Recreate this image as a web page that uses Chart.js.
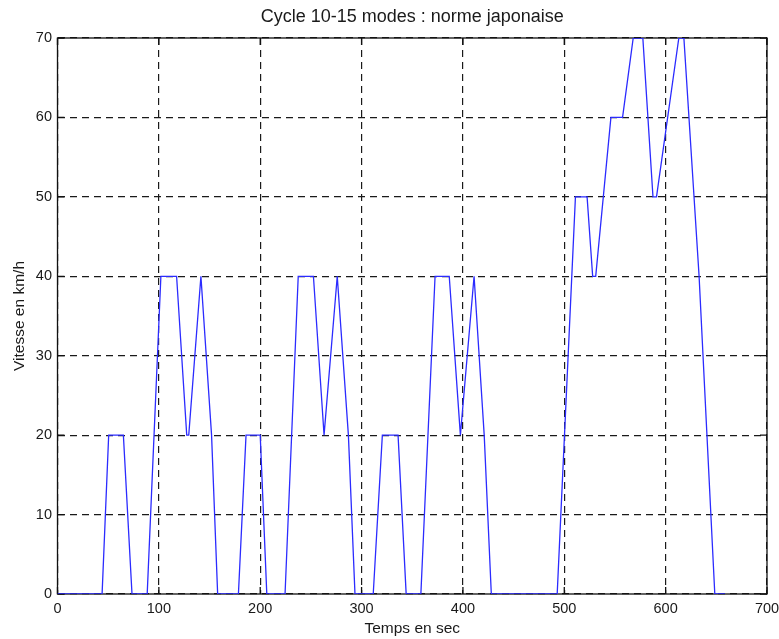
<!DOCTYPE html>
<html lang="fr">
<head>
<meta charset="utf-8">
<title>Cycle 10-15 modes : norme japonaise</title>
<script src="https://cdn.jsdelivr.net/npm/chart.js@4/dist/chart.umd.min.js"></script>
<style>
  html, body { margin: 0; padding: 0; background: #ffffff; }
  canvas { display: block; }
</style>
</head>
<body>
<canvas id="cycle" width="779" height="639"></canvas>
<script>
// Instants (s) des points de rupture du profil de vitesse
const tempsSec = [
  0, 44, 50.5, 65, 73.5, 88.5, 102, 117.5, 127.5, 129.5, 141.5, 152, 158,
  178.5, 186, 200, 206.5, 224.5, 237.5, 252.5, 263, 276, 287, 293.5,
  311.5, 320.5, 336, 344, 358.5, 372.5, 386.5, 397.5, 411, 421, 428,
  493, 511, 522.5, 528, 531, 546, 557.5, 568, 577.5, 587.5, 591, 613, 618,
  633, 648.5, 658.5
];
// Vitesse (km/h) atteinte à chacun de ces instants
const vitesseKmh = [
  0, 0, 20, 20, 0, 0, 40, 40, 20, 20, 40, 20, 0,
  0, 20, 20, 0, 0, 40, 40, 20, 40, 20, 0,
  0, 20, 20, 0, 0, 40, 40, 20, 40, 20, 0,
  0, 50, 50, 40, 40, 60, 60, 70, 70, 50, 50, 70, 70,
  40, 0, 0
];
// Graduations des deux axes
const graduationsTemps = [0, 100, 200, 300, 400, 500, 600, 700];
const graduationsVitesse = [0, 10, 20, 30, 40, 50, 60, 70];

const police = '"Liberation Sans", Arial, Helvetica, sans-serif';
const encre = '#1a1a1a';

// Cadre plein autour du tracé et petites graduations tournées vers l'intérieur
const cadreEtGraduations = {
  id: 'cadreEtGraduations',
  beforeDatasetsDraw(chart) {
    const { ctx, chartArea: a, scales: { x, y } } = chart;
    const long = 7;
    ctx.save();
    ctx.strokeStyle = '#111';
    ctx.lineWidth = 1.3;
    ctx.setLineDash([]);
    ctx.beginPath();
    x.ticks.forEach(t => {
      const px = x.getPixelForValue(t.value);
      ctx.moveTo(px, a.bottom); ctx.lineTo(px, a.bottom - long);
      ctx.moveTo(px, a.top); ctx.lineTo(px, a.top + long);
    });
    y.ticks.forEach(t => {
      const py = y.getPixelForValue(t.value);
      ctx.moveTo(a.left, py); ctx.lineTo(a.left + long, py);
      ctx.moveTo(a.right, py); ctx.lineTo(a.right - long, py);
    });
    ctx.stroke();
    ctx.strokeRect(a.left, a.top, a.right - a.left, a.bottom - a.top);
    ctx.restore();
  }
};

new Chart(document.getElementById('cycle'), {
  type: 'line',
  data: {
    datasets: [{
      label: 'Vitesse',
      data: tempsSec.map((t, i) => ({ x: t, y: vitesseKmh[i] })),
      borderColor: '#2b2bff',
      borderWidth: 1.3,
      pointRadius: 0,
      tension: 0,
      fill: false
    }]
  },
  options: {
    responsive: false,
    animation: false,
    devicePixelRatio: 1,
    layout: { padding: { left: 0, right: 12, top: 0, bottom: 0 } },
    plugins: {
      legend: { display: false },
      tooltip: { enabled: false },
      title: {
        display: true,
        fullSize: false,
        text: 'Cycle 10-15 modes : norme japonaise',
        color: encre,
        font: { family: police, size: 18, weight: 'normal' },
        padding: { top: 6, bottom: 10.4 }
      }
    },
    scales: {
      x: {
        type: 'linear',
        min: 0,
        max: 700,
        afterBuildTicks: s => { s.ticks = graduationsTemps.map(v => ({ value: v })); },
        afterFit: s => { s.height = 45; s.paddingLeft = 0; s.paddingRight = 0; },
        ticks: {
          color: encre,
          padding: 6,
          maxRotation: 0,
          font: { family: police, size: 14.5 }
        },
        grid: { color: '#1a1a1a', lineWidth: 1.2, drawTicks: false },
        border: { display: false, dash: [7, 5] },
        title: {
          display: true,
          text: 'Temps en sec',
          color: encre,
          font: { family: police, size: 15.5 },
          padding: { top: 0, bottom: 1.2 }
        }
      },
      y: {
        type: 'linear',
        min: 0,
        max: 70,
        afterBuildTicks: s => { s.ticks = graduationsVitesse.map(v => ({ value: v })); },
        afterFit: s => { s.width = 57.5; },
        ticks: {
          color: encre,
          padding: 5.5,
          font: { family: police, size: 14.5 }
        },
        grid: { color: '#1a1a1a', lineWidth: 1.2, drawTicks: false },
        border: { display: false, dash: [7, 5] },
        title: {
          display: true,
          text: 'Vitesse en km/h',
          color: encre,
          font: { family: police, size: 15.5 },
          padding: { top: 10, bottom: 0 }
        }
      }
    }
  },
  plugins: [cadreEtGraduations]
});
</script>
</body>
</html>
